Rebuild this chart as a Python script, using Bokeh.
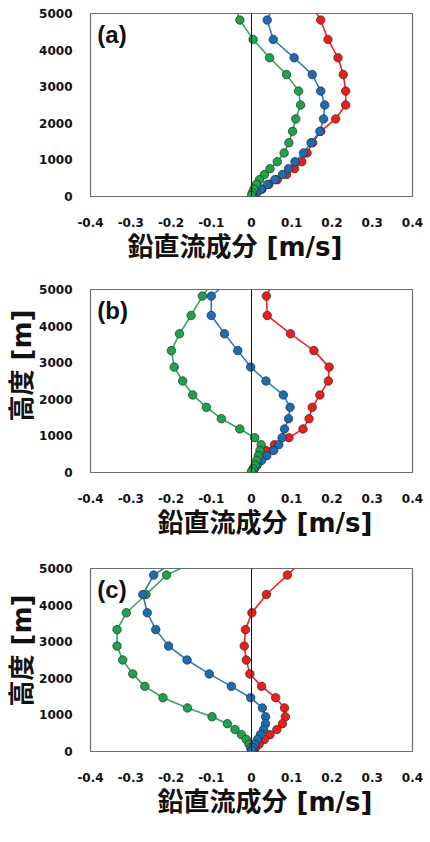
from bokeh.plotting import figure
from bokeh.layouts import column
from bokeh.models import Range1d, FixedTicker, Span, Label, Title
from bokeh.embed import file_html
from bokeh.resources import INLINE

# Model levels (m), top level lies above the plotted range
heights = [5400, 4820, 4290, 3790, 3330, 2880, 2500, 2120, 1780, 1470,
           1190, 950, 760, 600, 460, 330, 200, 100, 30]

# Vertical flow component (m/s) per case
a_red = [0.140, 0.172, 0.190, 0.215, 0.228, 0.234, 0.234, 0.209, 0.172, 0.152,
         0.138, 0.125, 0.107, 0.087, 0.064, 0.043, 0.026, 0.013, 0.004]
a_blue = [0.062, 0.039, 0.054, 0.106, 0.151, 0.172, 0.182, 0.179, 0.170, 0.148,
          0.129, 0.108, 0.092, 0.077, 0.058, 0.040, 0.024, 0.012, 0.004]
a_green = [-0.048, -0.029, 0.004, 0.045, 0.087, 0.117, 0.122, 0.110, 0.102, 0.093,
           0.081, 0.064, 0.046, 0.032, 0.020, 0.012, 0.006, 0.002, 0.000]

b_red = [0.063, 0.037, 0.039, 0.097, 0.155, 0.193, 0.191, 0.170, 0.151, 0.143,
         0.128, 0.093, 0.057, 0.036, 0.024, 0.016, 0.010, 0.005, 0.002]
b_blue = [-0.039, -0.100, -0.100, -0.067, -0.034, -0.002, 0.036, 0.079, 0.096, 0.092,
          0.082, 0.076, 0.068, 0.055, 0.038, 0.025, 0.014, 0.007, 0.002]
b_green = [-0.083, -0.122, -0.150, -0.179, -0.199, -0.192, -0.171, -0.146, -0.112, -0.075,
           -0.029, 0.008, 0.024, 0.021, 0.017, 0.013, 0.009, 0.004, 0.000]

c_red = [0.144, 0.089, 0.037, 0.001, -0.015, -0.018, -0.013, -0.004, 0.025, 0.060,
         0.082, 0.084, 0.077, 0.063, 0.046, 0.032, 0.019, 0.010, 0.004]
c_blue = [-0.163, -0.243, -0.270, -0.259, -0.238, -0.206, -0.160, -0.105, -0.050, -0.002,
          0.027, 0.035, 0.035, 0.030, 0.022, 0.015, 0.008, 0.004, 0.001]
c_green = [-0.098, -0.211, -0.262, -0.311, -0.334, -0.334, -0.320, -0.295, -0.265, -0.220,
           -0.159, -0.098, -0.060, -0.041, -0.025, -0.013, -0.006, -0.002, 0.000]

x_ticks = [-0.4, -0.3, -0.2, -0.1, 0.0, 0.1, 0.2, 0.3, 0.4]
x_tick_labels = ["-0.4", "-0.3", "-0.2", "-0.1", "0", "0.1", "0.2", "0.3", "0.4"]
y_ticks = [0, 1000, 2000, 3000, 4000, 5000]
y_tick_labels = ["0", "1000", "2000", "3000", "4000", "5000"]

x_title = "鉛直流成分 [m/s]"
y_title = "高度 [m]"

COLORS = {
    "red": ("#ee2424", "#ef1c1c"),
    "blue": ("#2a7cc2", "#1b6db3"),
    "green": ("#2eac58", "#1ea24a"),
}

TICK_FONT = "DejaVu Sans"
TITLE_FONT = "DejaVu Sans, Noto Sans CJK JP"


def make_panel(tag, series, order, bottom_pad, xt_offset, yt_offset):
    p = figure(frame_width=322, frame_height=183,
               min_border_left=90, min_border_right=18,
               min_border_top=13, min_border_bottom=bottom_pad,
               x_range=Range1d(-0.4, 0.4), y_range=Range1d(0, 5000),
               output_backend="svg", toolbar_location=None,
               background_fill_color="white", border_fill_color="white")
    p.grid.visible = False
    p.outline_line_color = "#6e6e6e"
    p.outline_line_width = 1.2

    p.xaxis.ticker = FixedTicker(ticks=x_ticks)
    p.xaxis.major_label_overrides = {t: l for t, l in zip(x_ticks, x_tick_labels)}
    p.yaxis.ticker = FixedTicker(ticks=y_ticks)
    p.yaxis.major_label_overrides = {t: l for t, l in zip(y_ticks, y_tick_labels)}
    for ax in (p.xaxis, p.yaxis):
        ax.axis_line_color = None
        ax.major_tick_line_color = None
        ax.minor_tick_line_color = None
        ax.major_label_text_font = TICK_FONT
        ax.major_label_text_font_style = "bold"
        ax.major_label_text_font_size = "12px"
        ax.major_label_text_color = "#111111"
    p.xaxis.major_label_standoff = 15
    p.yaxis.major_label_standoff = 12

    p.add_layout(Span(location=0, dimension="height",
                      line_color="#111111", line_width=1))

    for name in order:
        xs = series[name]
        line_c, fill_c = COLORS[name]
        p.line(xs, heights, line_color=line_c, line_width=1.6)
        p.scatter(xs, heights, size=8.5, fill_color=fill_c,
                  line_color="#2b2b2b", line_width=0.7)

    p.add_layout(Label(x=-0.383, y=4430, text=tag, text_font="Liberation Sans",
                       text_font_style="bold", text_font_size="24px",
                       text_align="left", text_baseline="middle",
                       text_color="#111111"))

    p.add_layout(Title(text=x_title, align="left", offset=xt_offset,
                       standoff=0, text_line_height=0.8,
                       text_font=TITLE_FONT, text_font_style="bold",
                       text_font_size="26px", text_color="#111111"), "below")
    if yt_offset is not None:
        p.add_layout(Title(text=y_title, align="left", offset=yt_offset,
                           standoff=0, text_line_height=0.7,
                           text_font=TITLE_FONT, text_font_style="bold",
                           text_font_size="26px", text_color="#111111"), "left")
    return p


pa = make_panel("(a)", {"red": a_red, "blue": a_blue, "green": a_green},
                ["red", "blue", "green"], 80, 37, None)
pb = make_panel("(b)", {"red": b_red, "blue": b_blue, "green": b_green},
                ["red", "blue", "green"], 83, 67, 51)
pc = make_panel("(c)", {"red": c_red, "blue": c_blue, "green": c_green},
                ["red", "green", "blue"], 80, 67, 45)

layout = column(pa, pb, pc, spacing=0)

open("out.html", "w").write(file_html(layout, INLINE))
